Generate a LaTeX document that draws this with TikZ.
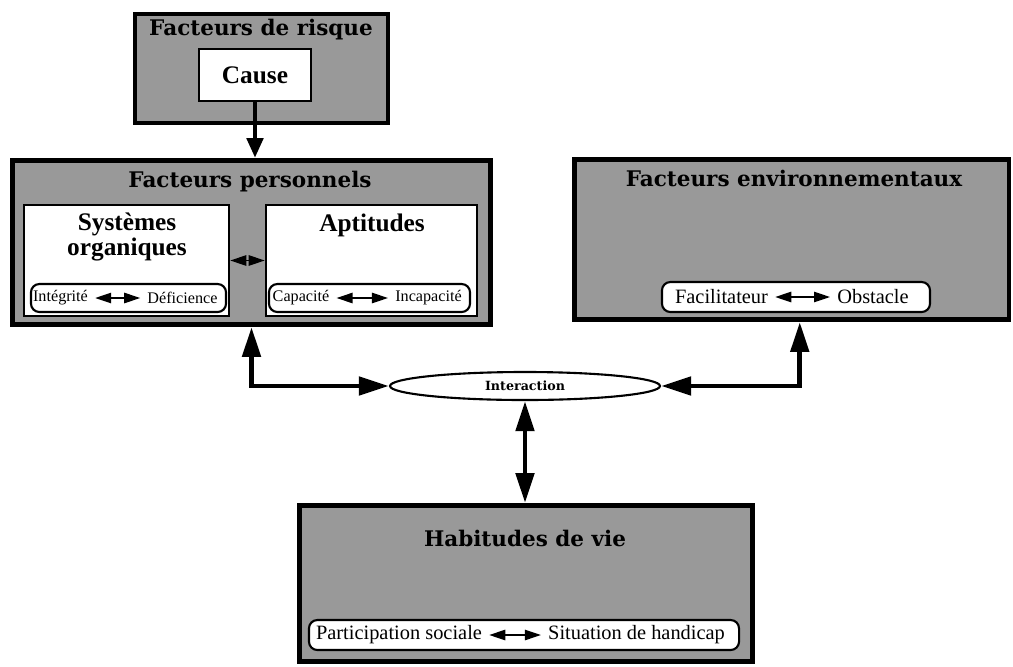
\documentclass[tikz,border=0pt]{standalone}
\usepackage{fontspec}
\setmainfont{Liberation Serif}
\newfontfamily\heavyfont{DejaVu Serif}
\usetikzlibrary{arrows.meta,shapes.geometric}

\tikzset{
  outerbox/.style={draw, line width=3.5pt, fill=black!40, inner sep=0pt},
  whitebox/.style={draw, line width=1.8pt, fill=white, inner sep=0pt},
  pillbox/.style={draw, line width=1.5pt, fill=white, rounded corners=6pt, inner sep=0pt},
  titletext/.style={font=\heavyfont\bfseries\fontsize{15.3}{17}\selectfont},
  boxtext/.style={font=\bfseries\fontsize{18}{18}\selectfont, align=center},
  smalltext/.style={font=\fontsize{11.5}{13}\selectfont, inner sep=2pt},
  linetext/.style={font=\fontsize{14.5}{16}\selectfont, inner sep=2pt},
  bigarrow/.style={line width=3.5pt, {Triangle[length=7.5mm,width=4.5mm]}-{Triangle[length=7.5mm,width=4.5mm]}},
  smallarrow/.style={line width=1pt, shorten <=3pt, shorten >=3pt,
    {Triangle[length=4mm,width=2.6mm]}-{Triangle[length=4mm,width=2.6mm]}},
}

\begin{document}
\begin{tikzpicture}[x=0.025cm, y=-0.025cm]
\useasboundingbox (0,0) rectangle (1013,666);

% risk factors
\node[outerbox, minimum width=6.325cm, minimum height=2.725cm] (risque) at (261.5,68.5) {};
\node[titletext] (risquetitle) at (261,30) {Facteurs de risque};
\node[whitebox, boxtext, minimum width=2.8cm, minimum height=1.3cm] (cause) at (255,75) {Cause};

% personal factors
\node[outerbox, minimum width=11.95cm, minimum height=4.1cm] (perso) at (251.5,242.5) {};
\node[titletext] (persotitle) at (250,182) {Facteurs personnels};
\node[whitebox, minimum width=5.125cm, minimum height=2.775cm] (systemes) at (126.5,260.5) {};
\node[boxtext] (systemestitle) at (127,237) {Systèmes\\organiques};
\node[whitebox, minimum width=5.275cm, minimum height=2.775cm] (aptitudes) at (371.5,260.5) {};
\node[boxtext] (aptitudestitle) at (372,225) {Aptitudes};
\node[pillbox, minimum width=4.875cm, minimum height=0.7cm] (integrite) at (128.5,298) {};
\node[smalltext] (integ) at (60.5,298) {Intégrité};
\node[smalltext] (defic) at (182.5,298) {Déficience};
\node[pillbox, minimum width=5.025cm, minimum height=0.7cm] (capacite) at (369.5,298) {};
\node[smalltext] (capa) at (301,298) {Capacité};
\node[smalltext] (incapa) at (428.5,298) {Incapacité};

% environmental factors
\node[outerbox, minimum width=10.86cm, minimum height=4cm] (env) at (791.75,239.5) {};
\node[titletext] (envtitle) at (794,178) {Facteurs environnementaux};
\node[pillbox, minimum width=6.7cm, minimum height=0.75cm] (facil) at (796,297) {};
\node[linetext] (facilit) at (721.5,297) {Facilitateur};
\node[linetext] (obst) at (873,297) {Obstacle};

% life habits
\node[outerbox, minimum width=11.325cm, minimum height=3.9cm] (habit) at (526,583.5) {};
\node[titletext] (habittitle) at (525,538) {Habitudes de vie};
\node[pillbox, minimum width=10.75cm, minimum height=0.75cm] (particip) at (524,635) {};
\node[linetext] (partsoc) at (399,635) {Participation sociale};
\node[linetext] (sithand) at (636.5,635) {Situation de handicap};

% interaction
\node[ellipse, draw, line width=1.5pt, fill=white, minimum width=6.75cm, minimum height=0.7cm,
  inner sep=0pt, font=\heavyfont\bfseries\fontsize{9}{10}\selectfont] (inter) at (525,386) {Interaction};

% connectors
\draw[line width=3.5pt, -{Triangle[length=5mm,width=4mm]}] (cause.south) -- (cause.south |- perso.north);
\draw[bigarrow] (perso.south) |- (inter.west);
\draw[bigarrow] ([xshift=0.2cm]env.south) |- (inter.east);
\draw[bigarrow] (inter.south) -- (inter.south |- habit.north);
\draw[smallarrow, shorten <=0pt, shorten >=0pt] (systemes) -- (aptitudes);
\draw[smallarrow] (integ) -- (defic);
\draw[smallarrow] (capa) -- (incapa);
\draw[smallarrow] (facilit) -- (obst);
\draw[smallarrow] (partsoc) -- (sithand);
\end{tikzpicture}
\end{document}
